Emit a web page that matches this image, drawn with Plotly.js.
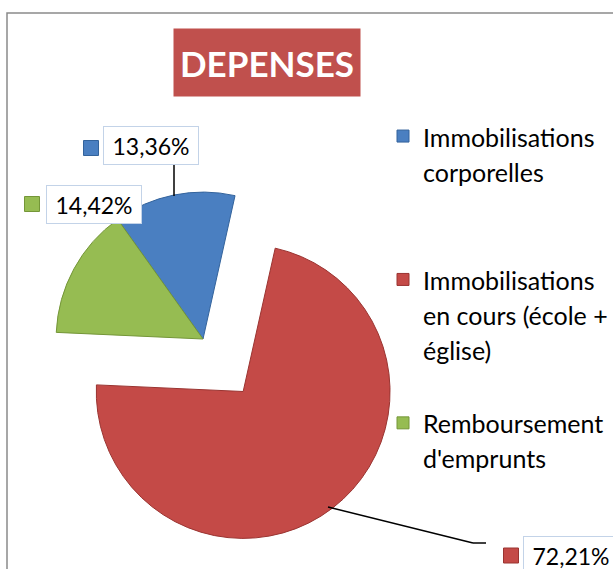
<!DOCTYPE html>
<html>
<head>
<meta charset="utf-8">
<script src="https://cdn.plot.ly/plotly-3.0.1.min.js"></script>
<style>
  html, body { margin:0; padding:0; overflow:hidden; background:#fff; width:613px; height:569px; }
  #chart { position:absolute; left:-40px; top:0; width:653px; height:569px; }
</style>
</head>
<body>
<div id="chart"></div>
<script>
// ---- data ----
var categories = [
  ['Immobilisations', 'corporelles'],
  ['Immobilisations', 'en cours (école +', 'église)'],
  ['Remboursement', "d'emprunts"]
];
var values = [13.36, 72.21, 14.42];
var colors = ['#4A7FC1', '#C44A47', '#96BC52'];
var edgeColors = ['#33639C', '#9A3431', '#749638'];
var pulls = [0, 0.45, 0];
var titleText = 'DEPENSES';

// ---- layout helpers (window pixels -> paper fractions) ----
var OFF = 40, W = 653, H = 569;
function px(x) { return (x + OFF) / W; }
function py(y) { return 1 - y / H; }

var valueLabels = values.map(function (v) { return v.toFixed(2).replace('.', ',') + '%'; });
var padLines = [2, 1, 0];
var legendLabels = categories.map(function (lines, i) {
  var s = lines.map(function (l) { return '<span style="font-size:25px">' + l + '</span>'; }).join('<br>');
  for (var k = 0; k < padLines[i]; k++) s += '<br>\u00a0';
  return s;
});

// pie centre (unpulled) and radius in window px
var cx = 203, cy = 339, half = 213;

var trace = {
  type: 'pie',
  labels: legendLabels,
  values: values,
  sort: false,
  direction: 'clockwise',
  rotation: -35.5,
  pull: pulls,
  marker: { colors: colors, line: { color: edgeColors, width: 1 } },
  textinfo: 'none',
  hoverinfo: 'label+percent',
  domain: { x: [px(cx - half), px(cx + half)], y: [py(cy + half), py(cy - half)] }
};

// label boxes: centre positions (window px) and key-square centres
var labelBoxes = [
  { cx: 151, cy: 145.5, kx: 91, ky: 148 },
  { cx: 571, cy: 555.5, kx: 511, ky: 555.5 },
  { cx: 94, cy: 204, kx: 32, ky: 204 }
];

var annotations = [{
  xref: 'paper', yref: 'paper', x: px(267), y: py(62.5), xanchor: 'center', yanchor: 'middle',
  text: '<b>' + titleText + '</b>', showarrow: false,
  font: { family: 'Lato, sans-serif', size: 35, color: '#ffffff' },
  bgcolor: '#C0504D', width: 186, height: 67, borderpad: 0
}];
var shapes = [{
  type: 'rect', xref: 'paper', yref: 'paper', x0: px(7), y0: py(13), x1: 1.1, y1: -0.1,
  line: { color: '#8a8a8a', width: 1.5 }, fillcolor: 'rgba(0,0,0,0)', layer: 'below'
}];

labelBoxes.forEach(function (b, i) {
  annotations.push({
    xref: 'paper', yref: 'paper', x: px(b.cx), y: py(b.cy), xanchor: 'center', yanchor: 'middle',
    text: valueLabels[i], showarrow: false,
    font: { family: 'Lato, sans-serif', size: 23, color: '#000000' },
    bgcolor: '#ffffff', bordercolor: '#C3D3E8', borderwidth: 1, borderpad: 0,
    width: 94, height: 37
  });
  shapes.push({
    type: 'rect', xref: 'paper', yref: 'paper',
    x0: px(b.kx - 7.5), x1: px(b.kx + 7.5), y0: py(b.ky + 7.5), y1: py(b.ky - 7.5),
    fillcolor: colors[i], line: { color: edgeColors[i], width: 1 }
  });
});

// leader lines
[[174, 165, 174, 196], [328, 507, 473, 543], [473, 543, 486, 543]].forEach(function (l) {
  shapes.push({
    type: 'line', xref: 'paper', yref: 'paper',
    x0: px(l[0]), y0: py(l[1]), x1: px(l[2]), y1: py(l[3]),
    line: { color: '#000000', width: 1.5 }
  });
});

var layout = {
  width: W, height: H,
  margin: { l: 0, r: 0, t: 0, b: 0, pad: 0 },
  paper_bgcolor: '#ffffff',
  showlegend: true,
  legend: {
    x: px(383), y: py(112), xanchor: 'left', yanchor: 'top',
    font: { family: 'Lato, sans-serif', size: 27, color: '#000000' },
    valign: 'top', bgcolor: 'rgba(0,0,0,0)', itemclick: false
  },
  annotations: annotations,
  shapes: shapes
};

Plotly.newPlot('chart', [trace], layout, { displayModeBar: false, staticPlot: true });
</script>
</body>
</html>
